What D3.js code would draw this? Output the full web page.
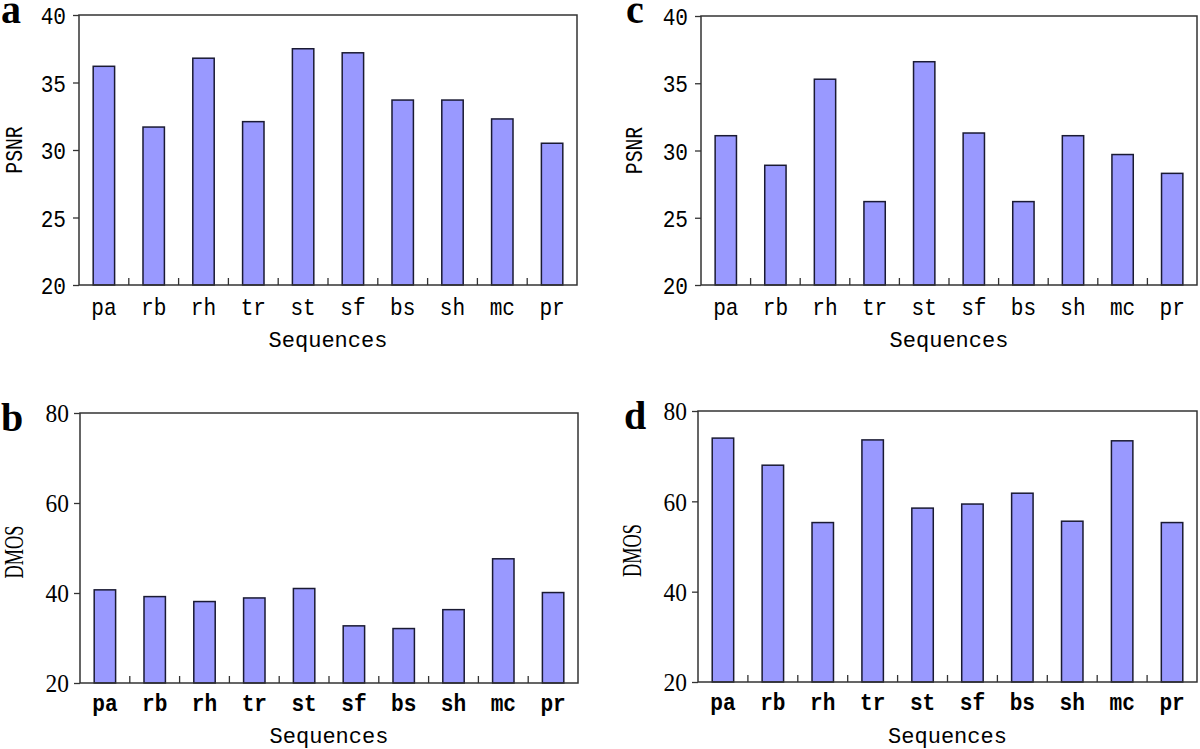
<!DOCTYPE html>
<html>
<head>
<meta charset="utf-8">
<script src="https://cdn.jsdelivr.net/npm/d3@7/dist/d3.min.js"></script>
<style>
  html, body { margin: 0; padding: 0; background: #fff; }
  svg { display: block; }
</style>
</head>
<body>
<svg id="chart" width="1200" height="749"></svg>
<script>
// ---------------- data ----------------
const categories = ["pa", "rb", "rh", "tr", "st", "sf", "bs", "sh", "mc", "pr"];
const psnrA = [36.2, 31.7, 36.8, 32.1, 37.5, 37.2, 33.7, 33.7, 32.3, 30.5];
const dmosB = [40.7, 39.2, 38.1, 38.9, 41.0, 32.7, 32.1, 36.3, 47.6, 40.1];
const psnrC = [31.1, 28.9, 35.3, 26.2, 36.6, 31.3, 26.2, 31.1, 29.7, 28.3];
const dmosD = [74.0, 68.0, 55.3, 73.6, 58.5, 59.4, 61.8, 55.6, 73.4, 55.3];
const psnrTicks = [20, 25, 30, 35, 40];
const dmosTicks = [20, 40, 60, 80];
const xTitle = "Sequences";

// ---------------- layout / style ----------------
const svg = d3.select("#chart");
const monoFont = "'Liberation Mono', 'DejaVu Sans Mono', monospace";
const serifFont = "'Liberation Serif', 'DejaVu Serif', serif";

const panels = [
  { letter: "a", values: psnrA, ticks: psnrTicks, yTitle: "PSNR", kind: "top",
    x0: 79, x1: 577, y0: 15, y1: 285, letterX: 1, letterY: 23, yTitleX: 14 },
  { letter: "c", values: psnrC, ticks: psnrTicks, yTitle: "PSNR", kind: "top",
    x0: 701, x1: 1197, y0: 16, y1: 285, letterX: 626, letterY: 23, yTitleX: 634 },
  { letter: "b", values: dmosB, ticks: dmosTicks, yTitle: "DMOS", kind: "bottom",
    x0: 80, x1: 578, y0: 413, y1: 683, letterX: 1, letterY: 431, yTitleX: 14 },
  { letter: "d", values: dmosD, ticks: dmosTicks, yTitle: "DMOS", kind: "bottom",
    x0: 698, x1: 1197, y0: 411, y1: 682, letterX: 624, letterY: 429, yTitleX: 632 }
];

panels.forEach(p => {
  const g = svg.append("g");
  const x = d3.scaleBand().domain(categories).range([p.x0, p.x1])
    .paddingInner(0.57).paddingOuter(0.285);
  const y = d3.scaleLinear().domain(d3.extent(p.ticks)).range([p.y1, p.y0]);
  const top = p.kind === "top";

  // bars
  g.selectAll("rect.bar").data(p.values).join("rect")
    .attr("class", "bar")
    .attr("x", (d, i) => x(categories[i]))
    .attr("width", x.bandwidth())
    .attr("y", d => y(d))
    .attr("height", d => y(p.ticks[0]) - y(d))
    .attr("fill", "#9999ff")
    .attr("stroke", "#1a1a33")
    .attr("stroke-width", 1.5);

  // frame
  g.append("rect")
    .attr("x", p.x0).attr("y", p.y0)
    .attr("width", p.x1 - p.x0).attr("height", p.y1 - p.y0)
    .attr("fill", "none").attr("stroke", "#333").attr("stroke-width", 1.5);

  // x boundary ticks (inward)
  const gap = (x.step() - x.bandwidth()) / 2;
  g.selectAll("line.xt").data(categories.slice(1)).join("line")
    .attr("class", "xt")
    .attr("x1", d => x(d) - gap).attr("x2", d => x(d) - gap)
    .attr("y1", p.y1).attr("y2", p.y1 - 7)
    .attr("stroke", "#333").attr("stroke-width", 1.3);

  // x axis labels
  const xa = g.append("g").attr("transform", `translate(0,${p.y1})`)
    .call(d3.axisBottom(x).tickSize(0));
  xa.select(".domain").remove();
  xa.selectAll("text")
    .attr("y", top ? 30 : 28).attr("dy", 0)
    .attr("transform", "scale(0.88,1)")
    .attr("fill", "#000")
    .style("font-family", monoFont)
    .style("font-size", "24px")
    .style("font-weight", top ? "normal" : "bold");

  // y axis
  const ya = g.append("g").attr("transform", `translate(${p.x0},0)`)
    .call(d3.axisLeft(y).tickValues(p.ticks).tickSize(6).tickFormat(d3.format("d")));
  ya.select(".domain").remove();
  ya.selectAll("line").attr("stroke", "#333").attr("stroke-width", 1.3);
  if (top) {
    ya.selectAll("text")
      .attr("x", -13 / 0.88)
      .attr("transform", "scale(0.88,1)")
      .attr("dy", "0.36em")
      .attr("fill", "#000")
      .style("font-family", monoFont)
      .style("font-size", "24px");
  } else {
    ya.selectAll("text")
      .attr("x", -11 / 0.9)
      .attr("transform", "scale(0.9,1)")
      .attr("dy", "0.34em")
      .attr("fill", "#000")
      .style("font-family", serifFont)
      .style("font-size", "26px");
  }

  // x title
  g.append("text")
    .attr("x", (p.x0 + p.x1) / 2)
    .attr("y", top ? 347 : 743)
    .attr("text-anchor", "middle")
    .style("font-family", monoFont)
    .style("font-size", "22px")
    .text(xTitle);

  // y title
  const cy = (p.y0 + p.y1) / 2;
  if (top) {
    g.append("text")
      .attr("transform", `translate(${p.yTitleX + 8},${cy}) rotate(-90) scale(0.9,1.1)`)
      .attr("text-anchor", "middle")
      .style("font-family", monoFont)
      .style("font-size", "22px")
      .text(p.yTitle);
  } else {
    g.append("text")
      .attr("transform", `translate(${p.yTitleX + 9},${cy + 4}) rotate(-90) scale(0.68,1)`)
      .attr("text-anchor", "middle")
      .style("font-family", serifFont)
      .style("font-size", "27px")
      .text(p.yTitle);
  }

  // panel letter
  g.append("text")
    .attr("x", p.letterX).attr("y", p.letterY)
    .style("font-family", serifFont)
    .style("font-weight", "bold")
    .style("font-size", "40px")
    .text(p.letter);
});
</script>
</body>
</html>
